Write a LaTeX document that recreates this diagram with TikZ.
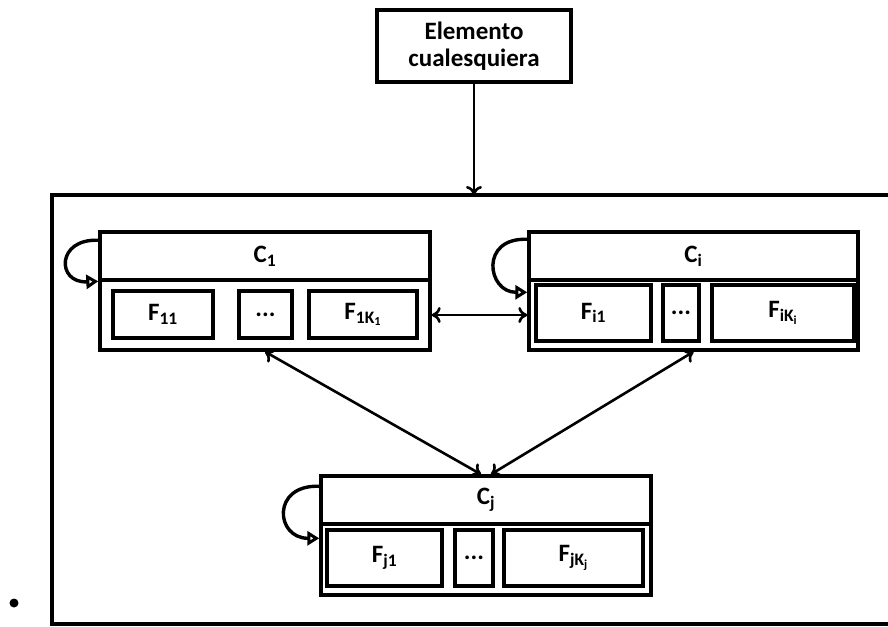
\documentclass[tikz,border=0pt]{standalone}
\usepackage{fontspec}
\setmainfont{Carlito}
\usetikzlibrary{arrows.meta}

\tikzset{
  cbox/.style={draw, line width=3.4pt, inner sep=0pt, font=\bfseries\fontsize{25}{27}\selectfont},
  fieldbox/.style={draw, line width=3.4pt, inner sep=0pt, font=\bfseries\fontsize{25}{27}\selectfont},
  link/.style={line width=2.6pt, {To[length=9pt,width=16pt]}-{To[length=9pt,width=16pt]}},
  selfloop/.style={line width=3.4pt, -{Triangle[open,length=12pt,width=14pt]}}
}

\begin{document}
\begin{tikzpicture}[x=1pt,y=-1pt]
\useasboundingbox (0,0) rectangle (888,626);

\node[cbox, minimum width=194pt, minimum height=72pt, align=center] (elem) at (474,46) {Elemento\\cualesquiera};
\draw[line width=3.4pt] (52,624) rectangle (900,195);
\coordinate (frametop) at (474,195);
\draw[line width=2.6pt, -{To[length=9pt,width=16pt]}] (elem.south) -- (frametop);
\fill (14,603) circle (4.5);

\node[cbox, minimum width=330pt, minimum height=48pt] (c1h) at (265,256) {C\textsubscript{1}};
\node[cbox, minimum width=330pt, minimum height=70pt] (c1b) at (265,315) {};
\node[fieldbox, minimum width=100pt, minimum height=47pt] (f11) at (163,314.5) {F\textsubscript{11}};
\node[fieldbox, minimum width=53pt, minimum height=47pt] (f1d) at (265.5,314.5) {...};
\node[fieldbox, minimum width=108pt, minimum height=47pt] (f1k) at (363,314.5) {F\textsubscript{1K\textsubscript{1}}};

\node[cbox, minimum width=329pt, minimum height=48pt] (cih) at (693.5,256) {C\textsubscript{i}};
\node[cbox, minimum width=329pt, minimum height=70pt] (cib) at (693.5,315) {};
\node[fieldbox, minimum width=115pt, minimum height=56pt] (fi1) at (593.5,313) {F\textsubscript{i1}};
\node[fieldbox, minimum width=36pt, minimum height=56pt] (fid) at (681,313) {...};
\node[fieldbox, minimum width=142pt, minimum height=56pt] (fik) at (783,313) {F\textsubscript{iK\textsubscript{i}}};

\node[cbox, minimum width=330pt, minimum height=48pt] (cjh) at (486,500) {C\textsubscript{j}};
\node[cbox, minimum width=330pt, minimum height=71pt] (cjb) at (486,559.5) {};
\node[fieldbox, minimum width=115pt, minimum height=56pt] (fj1) at (384.5,558) {F\textsubscript{j1}};
\node[fieldbox, minimum width=38pt, minimum height=56pt] (fjd) at (474,558) {...};
\node[fieldbox, minimum width=139pt, minimum height=56pt] (fjk) at (573.5,558) {F\textsubscript{jK\textsubscript{j}}};

\draw[selfloop] ([yshift=-10pt]c1h.north west) .. controls +(-42,-2) and +(-42,2) .. ([yshift=-3pt]c1b.north west);
\draw[selfloop] ([yshift=-9pt]cih.north west) .. controls +(-48,-2) and +(-40,0) .. ([yshift=-14pt]cib.north west);
\draw[selfloop] ([yshift=-12pt]cjh.north west) .. controls +(-48,-2) and +(-44,0) .. ([yshift=-16pt]cjb.north west);

\draw[link] (c1b.east) -- (cib.west);
\draw[link] (c1b.south) -- ([xshift=-5pt]cjh.north);
\draw[link] (cib.south) -- ([xshift=5pt]cjh.north);
\end{tikzpicture}
\end{document}
